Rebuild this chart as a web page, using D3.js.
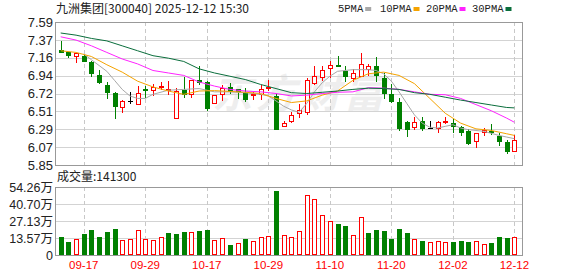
<!DOCTYPE html>
<html>
<head>
<meta charset="utf-8">
<script src="https://cdn.jsdelivr.net/npm/d3@7"></script>
<style>
  body { margin: 0; background: #fff; }
  svg { display: block; font-family: "Liberation Sans", Arial, sans-serif; }
</style>
</head>
<body>
<svg id="kline" width="578" height="276"></svg>
<script>
// trading days shown (MM-DD), 2025
var dates = ["09-12","09-15","09-16","09-17","09-18","09-19","09-22","09-23","09-24","09-25",
  "09-26","09-29","09-30","10-09","10-10","10-13","10-14","10-15","10-16","10-17",
  "10-20","10-21","10-22","10-23","10-24","10-27","10-28","10-29","10-30","10-31",
  "11-03","11-04","11-05","11-06","11-07","11-10","11-11","11-12","11-13","11-14",
  "11-17","11-18","11-19","11-20","11-21","11-24","11-25","11-26","11-27","11-28",
  "12-01","12-02","12-03","12-04","12-05","12-08","12-09","12-10","12-11","12-12"];

var opens = [7.25,7.22,7.18,7.18,7.10,6.95,6.82,6.73,6.55,6.63,
  6.59,6.77,6.76,6.80,6.76,6.42,6.76,6.71,6.89,6.86,
  6.61,6.71,6.80,6.77,6.73,6.70,6.72,6.795,6.69,6.33,
  6.39,6.48,6.49,6.85,6.92,7.03,7.07,6.99,6.91,6.93,
  7.02,7.06,6.91,6.71,6.62,6.37,6.31,6.39,6.30,6.30,
  6.385,6.36,6.31,6.26,6.14,6.25,6.26,6.20,6.13,6.02];
var highs = [7.36,7.23,7.21,7.19,7.12,7.00,6.86,6.74,6.64,6.74,
  6.81,6.81,6.83,6.86,6.87,6.79,6.92,6.89,7.05,6.87,
  6.70,6.82,6.85,6.77,6.79,6.74,6.82,6.885,6.72,6.39,
  6.49,6.59,6.91,7.05,7.05,7.12,7.18,7.06,7.02,7.21,
  7.08,7.17,6.97,6.83,6.67,6.38,6.43,6.44,6.38,6.38,
  6.43,6.41,6.33,6.29,6.24,6.30,6.35,6.24,6.15,6.21];
var lows = [7.22,7.16,7.10,7.12,6.93,6.85,6.67,6.42,6.50,6.60,
  6.59,6.68,6.70,6.77,6.71,6.42,6.68,6.68,6.84,6.52,
  6.60,6.64,6.73,6.66,6.63,6.65,6.65,6.76,6.29,6.32,
  6.37,6.44,6.465,6.83,6.89,6.92,7.06,6.87,6.87,6.93,
  6.95,6.87,6.67,6.62,6.27,6.20,6.29,6.28,6.30,6.25,
  6.355,6.25,6.22,6.11,6.07,6.21,6.23,6.09,6.00,6.02];
var closes = [7.23,7.19,7.21,7.12,6.97,6.86,6.74,6.57,6.63,6.63,
  6.73,6.76,6.80,6.81,6.78,6.75,6.72,6.89,6.86,6.54,
  6.70,6.79,6.75,6.75,6.65,6.71,6.78,6.80,6.29,6.36,
  6.46,6.52,6.88,6.93,7.01,7.07,7.06,6.93,6.97,7.08,
  7.06,6.94,6.73,6.63,6.30,6.29,6.37,6.30,6.30,6.375,
  6.39,6.32,6.25,6.12,6.24,6.28,6.255,6.14,6.02,6.16];

// volume, in 万 shares
var volumes = [14.3,10.6,12.7,16.7,19.9,14.3,18.3,20.7,11.9,12.7,
  19.9,12.7,11.9,14.0,17.5,16.7,18.3,18.3,19.1,19.9,
  11.9,13.5,7.9,9.5,12.7,11.1,14.0,15.1,50.8,15.6,
  14.0,19.1,47.7,45.0,31.8,27.5,24.6,23.0,15.6,30.7,
  17.5,19.9,19.1,12.7,20.7,17.5,12.7,11.1,10.3,11.1,
  10.3,10.3,11.1,10.3,11.1,8.5,9.5,14.3,13.5,14.13];

// moving averages (null = not read at that day)
var ma5 = [null,null,null,7.20,7.13,7.06,6.99,6.88,6.77,6.69,
  6.66,6.66,6.71,null,6.76,null,6.77,null,6.78,null,
  6.74,null,6.74,null,6.73,null,6.71,6.69,6.63,6.565,
  6.52,6.49,6.60,6.74,6.85,6.93,6.99,null,7.01,null,
  7.01,7.00,6.96,6.87,6.74,6.60,6.46,6.36,6.31,6.30,
  6.32,6.34,6.30,6.28,6.27,6.26,6.235,6.21,6.19,6.17];
var ma10 = [7.24,null,7.22,null,7.17,null,7.07,null,6.98,null,
  6.87,null,6.80,null,6.75,null,6.71,null,6.75,null,
  6.755,null,6.745,null,6.735,null,6.72,null,6.66,null,
  6.61,null,6.63,null,6.70,null,6.75,null,6.88,null,
  6.96,null,6.98,null,6.94,null,6.84,null,6.66,null,
  6.48,null,6.36,null,6.29,null,6.27,null,6.23,6.21];
var ma20 = [7.41,null,7.37,null,7.30,null,7.22,null,7.14,null,
  7.08,null,7.00,null,6.97,null,6.94,null,6.86,null,
  6.81,null,6.77,null,6.75,null,6.74,null,6.72,null,
  6.69,null,6.70,null,6.72,null,6.735,null,6.74,null,
  6.79,null,6.785,null,6.77,null,6.74,null,6.71,null,
  6.705,null,6.66,null,6.585,null,6.51,null,6.42,6.37];
var ma30 = [7.456,null,7.43,null,7.39,null,7.36,null,7.30,null,
  7.24,null,7.18,null,7.15,null,7.11,null,7.02,null,
  6.97,null,6.93,null,6.89,null,6.83,null,6.78,null,
  6.73,null,6.72,null,6.735,null,6.75,null,6.77,null,
  6.785,null,6.78,null,6.77,null,6.73,null,6.71,null,
  6.675,null,6.64,null,6.61,null,6.58,null,6.55,6.545];

var priceTicks = ["5.85","6.07","6.29","6.51","6.72","6.94","7.16","7.37","7.59"];
var volTicks = ["0","13.57万","27.13万","40.70万","54.26万"];
var dateTicks = ["09-17","09-29","10-17","10-29","11-10","11-20","12-02","12-12"];

var stockName = "九洲集团[300040]";
var stamp = "2025-12-12  15:30";

var RED = "#ff0000", GREEN = "#008000", GRID = "#d3d3d3", FRAME = "#999";

var svg = d3.select("#kline"),
    pLeft = 56, pRight = 522,
    pTop = 22, pBottom = 165,
    vTop = 187, vBottom = 255;

var x = d3.scaleBand()
    .domain(d3.range(dates.length))
    .range([pLeft + 0.85, pLeft + 0.85 + 7.69 * dates.length]);
var bw = x.bandwidth();
function xc(i) { return Math.round(x(i) + bw / 2); }

var pMin = +priceTicks[0], pMax = +priceTicks[priceTicks.length - 1];
var y = d3.scaleLinear().domain([pMin, pMax]).range([pBottom, pTop]);
var priceTickVals = priceTicks.map(function(d, k) { return pMin + k * (pMax - pMin) / (priceTicks.length - 1); });

var vMax = parseFloat(volTicks[volTicks.length - 1]);
var yv = d3.scaleLinear().domain([0, vMax]).range([vBottom, vTop]);
var volTickVals = volTicks.map(function(d, k) { return k * vMax / (volTicks.length - 1); });

var dateIdx = dateTicks.map(function(d) { return dates.indexOf(d); });

// watermark
svg.append("text")
    .attr("x", 300).attr("y", 108)
    .attr("text-anchor", "middle")
    .attr("font-family", "Noto Sans CJK SC")
    .attr("font-size", 40)
    .attr("font-weight", "bold")
    .attr("font-style", "italic")
    .attr("letter-spacing", 4)
    .attr("fill", "#eeeeee")
    .text("东方财富");

// horizontal grid
svg.append("g").selectAll("line")
    .data(priceTickVals.slice(1, -1))
    .enter().append("line")
    .attr("x1", pLeft).attr("x2", pRight)
    .attr("y1", function(d) { return Math.round(y(d)) + 0.5; })
    .attr("y2", function(d) { return Math.round(y(d)) + 0.5; })
    .attr("stroke", GRID);
svg.append("g").selectAll("line")
    .data(volTickVals.slice(1, -1))
    .enter().append("line")
    .attr("x1", pLeft).attr("x2", pRight)
    .attr("y1", function(d) { return Math.round(yv(d)) + 0.5; })
    .attr("y2", function(d) { return Math.round(yv(d)) + 0.5; })
    .attr("stroke", GRID);

// vertical dashed grid at date ticks
[[pTop, pBottom], [vTop, vBottom]].forEach(function(r) {
  svg.append("g").selectAll("line")
      .data(dateIdx)
      .enter().append("line")
      .attr("x1", function(i) { return xc(i) + 0.5; })
      .attr("x2", function(i) { return xc(i) + 0.5; })
      .attr("y1", r[0]).attr("y2", r[1])
      .attr("stroke", "#c8c8c8")
      .attr("stroke-dasharray", "4,3");
});

// frames
[[pTop, pBottom], [vTop, vBottom]].forEach(function(r) {
  svg.append("rect")
      .attr("x", pLeft - 0.5).attr("y", r[0] + 0.5)
      .attr("width", pRight - pLeft + 1).attr("height", r[1] - r[0])
      .attr("fill", "none")
      .attr("stroke", FRAME);
});

// candles
function candleColor(i) {
  if (closes[i] > opens[i]) return RED;
  if (closes[i] < opens[i]) return GREEN;
  return "#000";
}
var candles = svg.append("g").attr("shape-rendering", "crispEdges");
var cg = candles.selectAll("g")
    .data(d3.range(dates.length))
    .enter().append("g");
cg.append("line")
    .attr("x1", function(i) { return xc(i) + 0.5; })
    .attr("x2", function(i) { return xc(i) + 0.5; })
    .attr("y1", function(i) { return Math.round(y(highs[i])); })
    .attr("y2", function(i) { return Math.round(y(lows[i])) + 1; })
    .attr("stroke", candleColor);
cg.filter(function(i) { return closes[i] < opens[i]; })
    .append("rect")
    .attr("x", function(i) { return xc(i) - 2; })
    .attr("y", function(i) { return Math.round(y(opens[i])); })
    .attr("width", 5)
    .attr("height", function(i) { return Math.max(1, Math.round(y(closes[i])) - Math.round(y(opens[i])) + 1); })
    .attr("fill", GREEN);
cg.filter(function(i) { return closes[i] > opens[i]; })
    .append("rect")
    .attr("x", function(i) { return xc(i) - 1.5; })
    .attr("y", function(i) { return Math.round(y(closes[i])) + 0.5; })
    .attr("width", 4)
    .attr("height", function(i) { return Math.max(1, Math.round(y(opens[i])) - Math.round(y(closes[i]))); })
    .attr("fill", "#fff")
    .attr("stroke", RED);
cg.filter(function(i) { return closes[i] === opens[i]; })
    .append("line")
    .attr("x1", function(i) { return xc(i) - 2; })
    .attr("x2", function(i) { return xc(i) + 3; })
    .attr("y1", function(i) { return Math.round(y(closes[i])) + 0.5; })
    .attr("y2", function(i) { return Math.round(y(closes[i])) + 0.5; })
    .attr("stroke", "#000");

// moving averages
var maDefs = [
  {name: "5PMA", values: ma5, color: "#a8a8a8"},
  {name: "10PMA", values: ma10, color: "#f5a300"},
  {name: "20PMA", values: ma20, color: "#ff22ff"},
  {name: "30PMA", values: ma30, color: "#0a6e3c"}
];
var line = d3.line()
    .x(function(d) { return x(d[0]) + bw / 2; })
    .y(function(d) { return y(d[1]); });
maDefs.forEach(function(m) {
  var pts = m.values.map(function(v, i) { return [i, v]; })
      .filter(function(d) { return d[1] != null; });
  svg.append("path")
      .attr("d", line(pts))
      .attr("fill", "none")
      .attr("stroke", m.color)
      .attr("stroke-width", 1);
});

// volume bars (red when close >= previous close)
function volUp(i) { return closes[i] >= (i > 0 ? closes[i - 1] : opens[i]); }
var vg = svg.append("g").attr("shape-rendering", "crispEdges");
vg.selectAll("rect.dn")
    .data(d3.range(dates.length).filter(function(i) { return !volUp(i); }))
    .enter().append("rect")
    .attr("class", "dn")
    .attr("x", function(i) { return xc(i) - 2; })
    .attr("y", function(i) { return Math.round(yv(volumes[i])); })
    .attr("width", 5)
    .attr("height", function(i) { return vBottom - Math.round(yv(volumes[i])); })
    .attr("fill", GREEN);
vg.selectAll("rect.up")
    .data(d3.range(dates.length).filter(volUp))
    .enter().append("rect")
    .attr("class", "up")
    .attr("x", function(i) { return xc(i) - 1.5; })
    .attr("y", function(i) { return Math.round(yv(volumes[i])) + 0.5; })
    .attr("width", 4)
    .attr("height", function(i) { return vBottom - Math.round(yv(volumes[i])) - 1; })
    .attr("fill", "#fff")
    .attr("stroke", RED);

// axes
var ya = svg.append("g")
    .attr("transform", "translate(" + pLeft + ",0)")
    .call(d3.axisLeft(y).tickValues(priceTickVals)
      .tickFormat(function(d, k) { return priceTicks[k]; })
      .tickSize(0).tickPadding(3));
ya.select(".domain").remove();
ya.selectAll("text").attr("font-size", 13).attr("fill", "#222")
    .attr("font-family", "Liberation Sans, Arial, sans-serif");

var va = svg.append("g")
    .attr("transform", "translate(" + pLeft + ",0)")
    .call(d3.axisLeft(yv).tickValues(volTickVals)
      .tickFormat(function(d, k) { return volTicks[k]; })
      .tickSize(0).tickPadding(3));
va.select(".domain").remove();
va.selectAll("text").attr("font-size", 12.5).attr("fill", "#222")
    .attr("font-family", "Liberation Sans, Noto Sans CJK SC, sans-serif");

var xa = svg.append("g")
    .attr("transform", "translate(0," + vBottom + ")")
    .call(d3.axisBottom(x).tickValues(dateIdx)
      .tickFormat(function(i) { return dates[i]; })
      .tickSize(0).tickPadding(6));
xa.select(".domain").remove();
xa.selectAll("text").attr("font-size", 11.5).attr("fill", RED)
    .attr("font-family", "Liberation Sans, Arial, sans-serif");

// title and volume caption
svg.append("text")
    .attr("x", 56).attr("y", 13)
    .attr("font-size", 12).attr("fill", "#222")
    .attr("font-family", "Noto Sans CJK SC, sans-serif")
    .text(stockName + " " + stamp);
svg.append("text")
    .attr("x", 57).attr("y", 181)
    .attr("font-size", 12).attr("fill", "#222")
    .attr("font-family", "Noto Sans CJK SC, sans-serif")
    .text("成交量:" + Math.round(volumes[volumes.length - 1] * 10000));

// legend
var legX = [338, 380, 426, 472];
var leg = svg.append("g").selectAll("g")
    .data(maDefs)
    .enter().append("g")
    .attr("transform", function(d, k) { return "translate(" + legX[k] + ",0)"; });
leg.append("text")
    .attr("y", 12)
    .attr("font-size", 10.5)
    .attr("font-family", "Liberation Mono, monospace")
    .attr("fill", "#222")
    .text(function(d) { return d.name; });
leg.append("rect")
    .attr("x", function(d) { return d.name.length * 6.3 + 2; })
    .attr("y", 7).attr("width", 6).attr("height", 4)
    .attr("fill", function(d) { return d.color; });
</script>
</body>
</html>
